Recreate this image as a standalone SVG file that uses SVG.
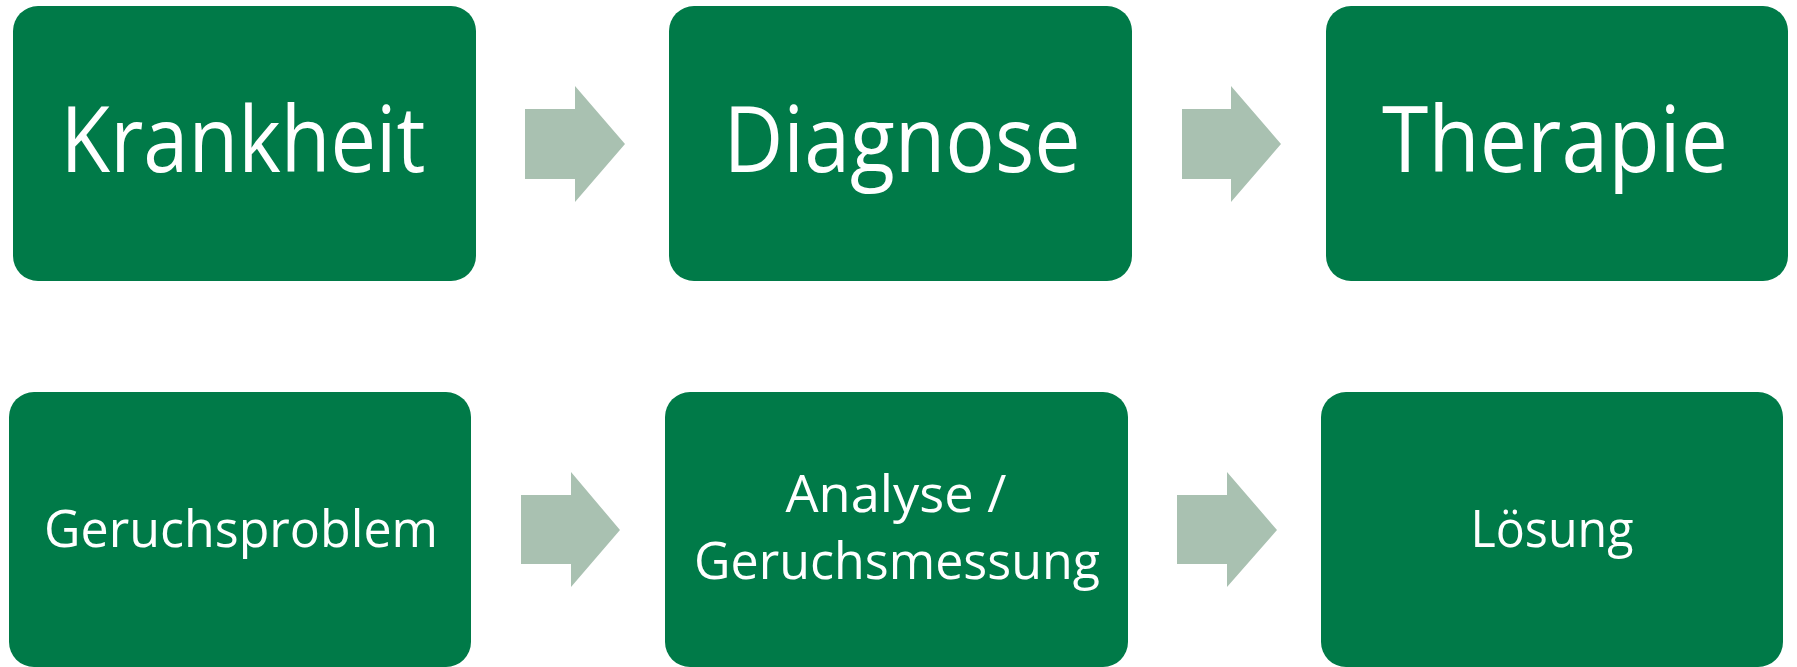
<svg xmlns="http://www.w3.org/2000/svg" width="1797" height="667" viewBox="0 0 1797 667">
<style>
.box{fill:#007A48}
.arr{fill:#A9C1B1}
.t{fill:#fff;font-family:"Open Sans","Liberation Sans",sans-serif;text-anchor:middle}
.big{font-size:92px}
.small{font-size:52px}
</style>
<rect width="1797" height="667" fill="#fff"/>
<g id="connectors">
<polygon class="arr" points="525,109 575,109 575,86 625,144 575,202 575,179 525,179"/>
<polygon class="arr" points="1182,109 1231,109 1231,86 1281,144 1231,202 1231,179 1182,179"/>
<polygon class="arr" points="521,495 571,495 571,472 620,530 571,587 571,564 521,564"/>
<polygon class="arr" points="1177,495 1227,495 1227,472 1277,530 1227,587 1227,564 1177,564"/>
</g>
<g id="krankheit"><rect class="box" x="13" y="6" width="463" height="275" rx="25"/><text class="t big" x="243" y="172" textLength="365" lengthAdjust="spacingAndGlyphs">Krankheit</text></g>
<g id="diagnose"><rect class="box" x="669" y="6" width="463" height="275" rx="25"/><text class="t big" x="902" y="172" textLength="357" lengthAdjust="spacingAndGlyphs">Diagnose</text></g>
<g id="therapie"><rect class="box" x="1326" y="6" width="462" height="275" rx="25"/><text class="t big" x="1555" y="172" textLength="346" lengthAdjust="spacingAndGlyphs">Therapie</text></g>
<g id="geruchsproblem"><rect class="box" x="9" y="392" width="462" height="275" rx="25"/><text class="t small" x="241" y="547" textLength="394" lengthAdjust="spacingAndGlyphs">Geruchsproblem</text></g>
<g id="analyse"><rect class="box" x="665" y="392" width="463" height="275" rx="25"/><text class="t small" x="896" y="512" textLength="221" lengthAdjust="spacingAndGlyphs">Analyse /</text><text class="t small" x="897" y="579" textLength="406" lengthAdjust="spacingAndGlyphs">Geruchsmessung</text></g>
<g id="loesung"><rect class="box" x="1321" y="392" width="462" height="275" rx="25"/><text class="t small" x="1552" y="547" textLength="163" lengthAdjust="spacingAndGlyphs">Lösung</text></g>
</svg>
